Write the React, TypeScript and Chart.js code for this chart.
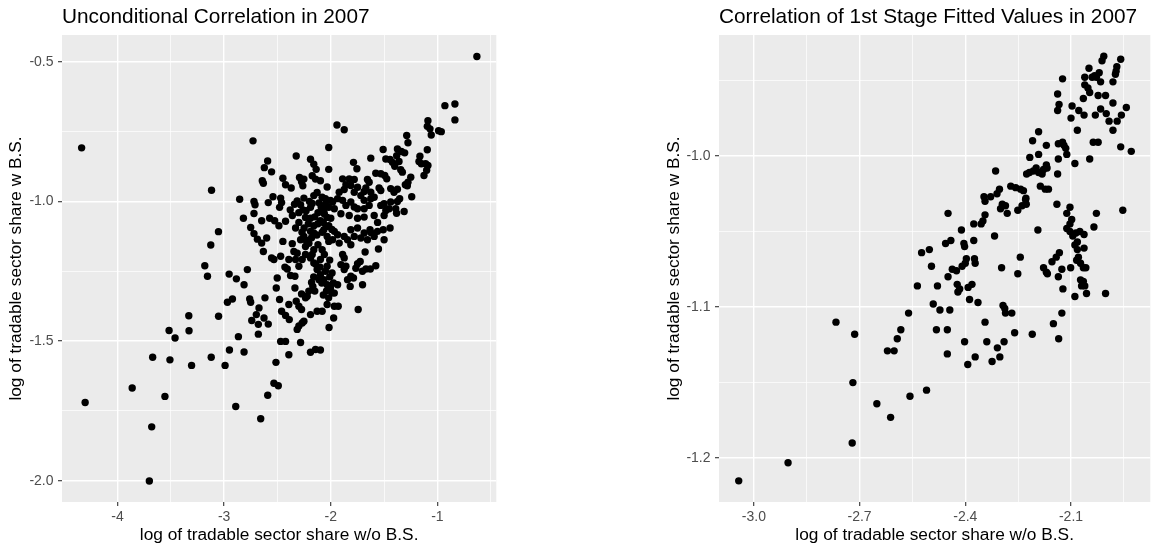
import React, { useEffect, useRef } from "react";
import { Chart, registerables } from "chart.js";

Chart.register(...registerables);

const FONT = '"Liberation Sans", Arial, Helvetica, sans-serif';

// ---------- Left panel data ----------
const leftTitle = "Unconditional Correlation in 2007";
const xAxisTitle = "log of tradable sector share w/o B.S.";
const yAxisTitle = "log of tradable sector share w B.S.";
const rightTitle = "Correlation of 1st Stage Fitted Values in 2007";

const leftXMajor = [-4, -3, -2, -1];
const leftXLabels = ["-4", "-3", "-2", "-1"];
const leftXMinor = [-3.5, -2.5, -1.5, -0.5];
const leftYMajor = [-2.0, -1.5, -1.0, -0.5];
const leftYLabels = ["-2.0", "-1.5", "-1.0", "-0.5"];
const leftYMinor = [-1.75, -1.25, -0.75];
const leftXRange = [-4.52, -0.448];
const leftYRange = [-2.076, -0.404];

const leftSparse: number[][] = [
  [-0.630, -0.481], [-4.336, -0.808], [-4.303, -1.720], [-3.862, -1.668], [-3.555, -1.698],
  [-3.679, -1.807], [-3.701, -2.001], [-3.670, -1.558], [-3.508, -1.567], [-3.305, -1.587],
  [-3.516, -1.462], [-3.460, -1.489], [-3.331, -1.409], [-3.329, -1.463], [-3.121, -1.558],
  [-3.052, -1.411], [-2.991, -1.587], [-2.950, -1.532], [-2.866, -1.484], [-2.813, -1.539],
  [-2.891, -1.734], [-2.657, -1.778], [-2.591, -1.694], [-2.533, -1.651], [-2.492, -1.660],
  [-2.514, -1.576], [-2.470, -1.501], [-2.424, -1.501], [-2.393, -1.549], [-2.283, -1.505],
  [-2.190, -1.540], [-2.143, -1.530], [-2.097, -1.532], [-2.016, -1.451], [-2.679, -1.440],
  [-2.679, -1.475], [-2.586, -1.439],
  [-3.118, -0.960], [-3.053, -1.108], [-3.125, -1.156], [-3.181, -1.230], [-3.156, -1.268],
  [-2.953, -1.260], [-2.885, -1.277], [-2.813, -1.298], [-2.782, -1.244], [-2.969, -1.361],
  [-2.922, -1.349], [-2.760, -1.349], [-2.751, -1.361], [-2.617, -1.345], [-2.673, -1.381],
  [-2.698, -1.405], [-2.741, -1.426], [-2.626, -1.417],
];

const leftUpperCluster: number[][] = [
  [-2.729, -0.783], [-2.592, -0.855], [-2.623, -0.879], [-2.555, -0.894], [-2.642, -0.926],
  [-2.632, -0.935], [-2.324, -0.837], [-2.190, -0.849], [-2.159, -0.867], [-2.137, -0.885],
  [-2.019, -0.807], [-2.019, -0.885], [-2.449, -0.917], [-2.424, -0.940], [-2.371, -0.952],
  [-2.293, -0.914], [-2.274, -0.929], [-2.252, -0.920], [-2.262, -0.944], [-2.174, -0.908],
  [-2.143, -0.920], [-2.097, -0.926], [-2.034, -0.948], [-2.128, -0.968], [-2.159, -0.979],
  [-2.081, -0.985], [-2.050, -0.990], [-2.003, -0.996], [-2.854, -0.992], [-2.720, -1.000],
  [-2.710, -1.012], [-2.586, -1.004], [-2.542, -0.983], [-2.470, -0.988], [-2.461, -1.004],
  [-2.480, -1.021], [-2.315, -0.998], [-2.283, -1.012], [-2.252, -0.988], [-2.174, -1.007],
  [-2.190, -1.021], [-2.231, -1.033], [-2.720, -1.043], [-2.819, -1.060], [-2.648, -1.069],
  [-2.573, -1.060], [-2.526, -1.069], [-2.424, -1.071], [-2.751, -1.093], [-2.486, -1.087],
  [-2.299, -1.075], [-2.237, -1.057], [-2.159, -1.087], [-2.097, -1.069], [-2.034, -1.057],
  [-2.019, -1.087], [-2.065, -1.033], [-2.019, -1.021],
];

const leftRightCluster: number[][] = [
  [-0.930, -0.657], [-0.836, -0.651], [-0.836, -0.708], [-1.942, -0.726], [-1.874, -0.743],
  [-1.089, -0.711], [-1.095, -0.731], [-1.070, -0.740], [-1.058, -0.762], [-0.989, -0.747],
  [-0.964, -0.750], [-1.288, -0.764], [-1.276, -0.790], [-1.095, -0.815], [-1.509, -0.814],
  [-1.625, -0.845], [-1.787, -0.860], [-1.755, -0.883], [-1.484, -0.848], [-1.444, -0.850],
  [-1.422, -0.860], [-1.400, -0.874], [-1.375, -0.812], [-1.338, -0.821], [-1.307, -0.826],
  [-1.382, -0.836], [-1.360, -0.857], [-1.344, -0.886], [-1.329, -0.895], [-1.164, -0.838],
  [-1.173, -0.857], [-1.151, -0.865], [-1.111, -0.865], [-1.089, -0.871], [-1.101, -0.888],
  [-1.126, -0.907], [-1.250, -0.913], [-1.276, -0.931], [-1.301, -0.940], [-1.282, -0.944],
  [-1.241, -0.983], [-1.578, -0.899], [-1.531, -0.901], [-1.494, -0.907], [-1.475, -0.919],
  [-1.354, -0.990], [-1.438, -0.954], [-1.375, -0.956], [-1.407, -0.967], [-1.375, -1.000],
  [-1.438, -1.002], [-1.500, -1.008],
  [-1.889, -0.919], [-1.827, -0.919], [-1.780, -0.921], [-1.858, -0.940], [-1.812, -0.943],
  [-1.749, -0.949], [-1.656, -0.921], [-1.640, -0.931], [-1.671, -0.952], [-1.687, -0.964],
  [-1.625, -0.967], [-1.547, -0.952], [-1.531, -0.961], [-1.593, -0.985], [-1.625, -0.990],
  [-1.687, -0.996], [-1.718, -0.979], [-1.780, -0.967], [-1.874, -0.957], [-1.921, -0.967],
  [-1.936, -0.990], [-1.889, -0.996], [-1.858, -1.014], [-1.812, -1.002], [-1.780, -1.020],
  [-1.749, -1.026], [-1.687, -1.026], [-1.640, -1.014], [-1.531, -1.014], [-1.484, -1.032],
  [-1.453, -1.026], [-1.391, -1.026], [-1.500, -1.050], [-1.593, -1.050], [-1.687, -1.056],
  [-1.749, -1.060], [-1.827, -1.050], [-1.905, -1.044], [-1.967, -1.026], [-1.983, -1.002],
  [-1.312, -1.036], [-1.383, -1.042], [-1.561, -1.075], [-1.508, -1.101], [-1.632, -1.101],
];

const leftLowerCluster: number[][] = [
  [-1.444, -1.095], [-1.500, -1.137], [-1.553, -1.170], [-1.678, -1.181], [-1.578, -1.230],
  [-1.670, -1.242], [-1.629, -1.242], [-1.703, -1.250], [-1.749, -1.223], [-1.765, -1.239],
  [-1.724, -1.215], [-1.702, -1.298], [-1.743, -1.387], [-1.812, -1.268], [-1.843, -1.280],
  [-1.787, -1.274], [-1.818, -1.304], [-1.889, -1.190], [-1.874, -1.202], [-1.905, -1.226],
  [-1.858, -1.232], [-1.874, -1.244], [-1.936, -1.298], [-1.967, -1.328], [-1.967, -1.375],
  [-1.930, -1.375], [-1.973, -1.417],
  [-1.812, -1.101], [-1.749, -1.095], [-1.687, -1.113], [-1.625, -1.111], [-1.562, -1.107],
  [-1.593, -1.125], [-1.656, -1.137], [-1.718, -1.131], [-1.780, -1.125], [-1.843, -1.137],
  [-1.812, -1.155], [-1.874, -1.125], [-1.936, -1.119], [-1.983, -1.137], [-1.921, -1.149],
  [-1.967, -1.107],
  [-2.330, -1.208], [-2.299, -1.232], [-2.268, -1.208], [-2.237, -1.190], [-2.430, -1.235],
  [-2.408, -1.242], [-2.377, -1.265], [-2.336, -1.268], [-2.502, -1.274], [-2.511, -1.310],
  [-2.480, -1.351], [-2.336, -1.310], [-2.274, -1.331], [-2.237, -1.345], [-2.393, -1.369],
  [-2.324, -1.357], [-2.299, -1.375], [-2.274, -1.387], [-2.461, -1.393], [-2.424, -1.408],
  [-2.389, -1.423], [-2.299, -1.446], [-2.268, -1.435], [-2.252, -1.429], [-2.315, -1.458],
  [-2.190, -1.405], [-2.168, -1.304], [-2.150, -1.321], [-2.221, -1.339], [-2.206, -1.321],
  [-2.128, -1.393], [-2.081, -1.393], [-2.034, -1.369],
  [-2.720, -1.115], [-2.688, -1.135], [-2.648, -1.149], [-2.601, -1.131], [-2.632, -1.179],
  [-2.555, -1.202], [-2.533, -1.208], [-2.470, -1.196], [-2.449, -1.143], [-2.361, -1.151],
  [-2.346, -1.179], [-2.393, -1.208],
  [-2.190, -1.202], [-2.159, -1.220], [-2.128, -1.244], [-2.097, -1.262], [-2.065, -1.280],
  [-2.034, -1.298], [-2.003, -1.310], [-1.988, -1.327],
  [-2.283, -1.137], [-2.252, -1.125], [-2.190, -1.107], [-2.159, -1.113], [-2.065, -1.101],
  [-2.034, -1.125], [-2.019, -1.143], [-2.081, -1.173], [-2.159, -1.173], [-2.237, -1.161],
  [-2.174, -1.190], [-2.097, -1.208], [-2.034, -1.232], [-1.988, -1.256],
  [-2.315, -1.185], [-2.205, -1.150], [-2.120, -1.155], [-2.060, -1.190], [-2.010, -1.210],
  [-2.140, -1.225], [-2.100, -1.235], [-2.050, -1.250], [-2.010, -1.270], [-2.110, -1.280],
  [-2.160, -1.270], [-2.180, -1.290], [-2.040, -1.320], [-2.070, -1.335], [-2.020, -1.345],
  [-1.975, -1.292], [-2.084, -1.292],
  [-2.050, -1.010], [-2.090, -1.020], [-2.120, -1.040], [-2.150, -1.055], [-2.190, -1.060],
  [-2.210, -1.080], [-2.250, -1.095], [-2.270, -1.110], [-2.330, -1.095], [-2.360, -1.050],
  [-2.380, -1.030], [-2.340, -1.010], [-2.300, -1.040], [-2.260, -1.030], [-2.200, -1.000],
  [-2.110, -1.005], [-2.060, -1.045], [-2.000, -1.060], [-1.990, -1.100], [-2.040, -1.090],
  [-2.080, -1.110], [-2.130, -1.120], [-2.180, -1.130], [-2.230, -1.140], [-2.120, -1.080],
  [-2.070, -1.075],
];

// ---------- Right panel data ----------
const rightXMajor = [-3.0, -2.7, -2.4, -2.1];
const rightXLabels = ["-3.0", "-2.7", "-2.4", "-2.1"];
const rightXMinor = [-2.85, -2.55, -2.25, -1.95];
const rightYMajor = [-1.2, -1.1, -1.0];
const rightYLabels = ["-1.2", "-1.1", "-1.0"];
const rightYMinor = [-1.15, -1.05, -0.95];
const rightXRange = [-3.099, -1.875];
const rightYRange = [-1.229, -0.92];

const rightTop: number[][] = [
  [-2.007, -0.934], [-2.012, -0.937], [-1.959, -0.936], [-2.049, -0.942], [-2.020, -0.945],
  [-2.033, -0.947], [-2.040, -0.948], [-2.028, -0.948], [-1.970, -0.941], [-1.972, -0.944],
  [-1.974, -0.946], [-1.981, -0.951], [-2.061, -0.948], [-2.016, -0.951], [-2.124, -0.949],
  [-2.061, -0.953], [-2.052, -0.955], [-2.047, -0.958], [-2.065, -0.962], [-2.023, -0.960],
  [-2.002, -0.960], [-2.138, -0.959], [-2.134, -0.966], [-2.138, -0.970], [-2.097, -0.967],
  [-2.100, -0.975], [-2.078, -0.970], [-2.063, -0.973], [-2.031, -0.973], [-2.016, -0.969],
  [-2.000, -0.972], [-1.992, -0.977], [-1.969, -0.977], [-1.981, -0.965], [-1.957, -0.973],
  [-1.943, -0.968], [-1.981, -0.983], [-2.082, -0.983], [-2.037, -0.991], [-2.023, -0.991],
  [-1.959, -0.994], [-1.929, -0.997], [-2.192, -0.984], [-2.209, -0.990], [-2.170, -0.993],
  [-2.136, -0.992], [-2.124, -0.991], [-2.120, -0.993], [-2.115, -0.995], [-2.192, -0.999],
  [-2.217, -1.001], [-2.112, -0.999], [-2.136, -1.002], [-2.089, -1.005], [-2.047, -1.002],
  [-2.314, -1.010], [-2.199, -1.008], [-2.207, -1.010], [-2.218, -1.011], [-2.226, -1.012],
  [-2.192, -1.011], [-2.178, -1.009], [-2.170, -1.006], [-2.168, -1.008], [-2.182, -1.012],
  [-2.138, -1.012], [-2.187, -1.020], [-2.173, -1.022], [-2.164, -1.022], [-2.271, -1.020],
  [-2.257, -1.021], [-2.243, -1.022], [-2.235, -1.023], [-2.303, -1.022], [-2.310, -1.025],
  [-2.328, -1.027], [-2.228, -1.028],
];

const rightMiddle: number[][] = [
  [-2.295, -1.032], [-2.300, -1.035], [-2.286, -1.033], [-2.281, -1.038], [-2.251, -1.036],
  [-2.239, -1.033], [-2.229, -1.029], [-2.227, -1.032], [-2.140, -1.032], [-2.112, -1.038],
  [-2.103, -1.034], [-2.028, -1.038], [-1.953, -1.036], [-2.035, -1.047], [-2.317, -1.053],
  [-2.194, -1.049], [-2.098, -1.042], [-2.103, -1.045], [-2.112, -1.048], [-2.103, -1.050],
  [-2.095, -1.053], [-2.086, -1.051], [-2.075, -1.050], [-2.063, -1.052], [-2.082, -1.057],
  [-2.089, -1.059], [-2.082, -1.062], [-2.063, -1.061], [-2.079, -1.067], [-2.084, -1.069],
  [-2.073, -1.071], [-2.065, -1.074], [-2.058, -1.074], [-2.133, -1.064], [-2.142, -1.067],
  [-2.154, -1.070], [-2.178, -1.074], [-2.170, -1.077], [-2.167, -1.078], [-2.126, -1.075],
  [-2.136, -1.080], [-2.101, -1.074], [-2.123, -1.088], [-2.073, -1.082], [-2.065, -1.083],
  [-2.070, -1.086], [-2.061, -1.086], [-2.056, -1.091], [-2.089, -1.093], [-2.002, -1.091],
  [-2.244, -1.067], [-2.297, -1.074], [-2.251, -1.078], [-2.293, -1.099], [-2.288, -1.101],
  [-2.286, -1.104], [-2.268, -1.104], [-2.126, -1.104], [-2.150, -1.111], [-2.260, -1.117],
  [-2.210, -1.118], [-2.135, -1.121],
];

const rightLeft: number[][] = [
  [-2.347, -1.027], [-2.344, -1.030], [-2.449, -1.038], [-2.344, -1.039], [-2.376, -1.045],
  [-2.355, -1.045], [-2.350, -1.043], [-2.411, -1.049], [-2.456, -1.058], [-2.441, -1.056],
  [-2.404, -1.058], [-2.402, -1.060], [-2.376, -1.056], [-2.524, -1.064], [-2.502, -1.062],
  [-2.496, -1.073], [-2.397, -1.068], [-2.374, -1.068], [-2.372, -1.071], [-2.437, -1.075],
  [-2.425, -1.076], [-2.409, -1.073], [-2.400, -1.071], [-2.449, -1.080], [-2.536, -1.086],
  [-2.479, -1.086], [-2.423, -1.085], [-2.421, -1.090], [-2.416, -1.088], [-2.392, -1.087],
  [-2.381, -1.085], [-2.388, -1.095], [-2.364, -1.097], [-2.491, -1.098], [-2.472, -1.102],
  [-2.444, -1.102], [-2.561, -1.104], [-2.344, -1.110], [-2.583, -1.115], [-2.482, -1.115],
  [-2.451, -1.115],
  [-3.043, -1.215], [-2.903, -1.203], [-2.721, -1.190], [-2.651, -1.164], [-2.612, -1.173],
  [-2.557, -1.159], [-2.510, -1.155], [-2.719, -1.150], [-2.767, -1.110], [-2.714, -1.118],
  [-2.621, -1.129], [-2.602, -1.129], [-2.593, -1.121], [-2.451, -1.131], [-2.402, -1.123],
  [-2.393, -1.138], [-2.372, -1.133], [-2.339, -1.123], [-2.324, -1.136], [-2.309, -1.127],
  [-2.302, -1.133], [-2.290, -1.123],
];

type Spec = {
  title: string;
  points: number[][];
  xRange: number[];
  yRange: number[];
  xMajor: number[];
  xLabels: string[];
  xMinor: number[];
  yMajor: number[];
  yLabels: string[];
  yMinor: number[];
  yAxisWidth: number;
  yTitlePad: number;
  padRight: number;
};

const near = (arr: number[], v: number) => arr.findIndex((m) => Math.abs(m - v) < 1e-9);

const panelPlugin = {
  id: "panelDecor",
  beforeDraw(chart: any) {
    const { ctx, chartArea } = chart;
    ctx.save();
    ctx.fillStyle = "#EBEBEB";
    ctx.fillRect(chartArea.left, chartArea.top, chartArea.right - chartArea.left, chartArea.bottom - chartArea.top);
    ctx.restore();
  },
  afterDraw(chart: any, _args: any, opts: any) {
    const { ctx, chartArea } = chart;
    ctx.save();
    ctx.font = `20.8px ${FONT}`;
    ctx.fillStyle = "#000000";
    ctx.textAlign = "left";
    ctx.textBaseline = "alphabetic";
    ctx.fillText(opts.text, chartArea.left, 23);
    ctx.restore();
  },
};

function buildConfig(s: Spec): any {
  const scale = (major: number[], minor: number[], labels: string[], range: number[], isX: boolean, axisTitle: string) => ({
    type: "linear",
    position: isX ? "bottom" : "left",
    min: range[0],
    max: range[1],
    afterBuildTicks: (axis: any) => {
      axis.ticks = [...minor, ...major].sort((a, b) => a - b).map((v) => ({ value: v }));
    },
    afterFit: (axis: any) => {
      if (isX) axis.height = 46;
      else axis.width = s.yAxisWidth;
    },
    ticks: {
      autoSkip: false,
      maxRotation: 0,
      padding: isX ? 3 : 4.5,
      color: "#4D4D4D",
      font: { family: FONT, size: 14 },
      callback: (v: any) => {
        const i = near(major, Number(v));
        return i >= 0 ? labels[i] : "";
      },
    },
    grid: {
      color: "#FFFFFF",
      lineWidth: (c: any) => (c.tick && near(major, c.tick.value) >= 0 ? 1.4 : 0.7),
      drawTicks: true,
      tickLength: 4,
      tickWidth: 1.1,
      tickColor: (c: any) => (c.tick && near(major, c.tick.value) >= 0 ? "#333333" : "rgba(0,0,0,0)"),
    },
    border: { display: false },
    title: {
      display: true,
      text: axisTitle,
      color: "#000000",
      font: { family: FONT, size: 17.3 },
      padding: isX ? { top: 0, bottom: 2 } : { top: s.yTitlePad, bottom: 0 },
    },
  });

  return {
    type: "scatter",
    data: {
      datasets: [
        {
          data: s.points.map((p) => ({ x: p[0], y: p[1] })),
          pointBackgroundColor: "#000000",
          pointBorderWidth: 0,
          pointBorderColor: "rgba(0,0,0,0)",
          pointRadius: 3.7,
          pointHoverRadius: 3.7,
          showLine: false,
        },
      ],
    },
    options: {
      animation: false,
      responsive: false,
      devicePixelRatio: 1,
      events: [],
      layout: { padding: { top: 35, right: s.padRight, bottom: 0, left: 0 } },
      plugins: {
        legend: { display: false },
        tooltip: { enabled: false },
        title: { display: false },
        panelDecor: { text: s.title },
      },
      scales: {
        x: scale(s.xMajor, s.xMinor, s.xLabels, s.xRange, true, xAxisTitle),
        y: scale(s.yMajor, s.yMinor, s.yLabels, s.yRange, false, yAxisTitle),
      },
    },
    plugins: [panelPlugin],
  };
}

const leftSpec: Spec = {
  title: leftTitle,
  points: [...leftSparse, ...leftUpperCluster, ...leftRightCluster, ...leftLowerCluster],
  xRange: leftXRange,
  yRange: leftYRange,
  xMajor: leftXMajor,
  xLabels: leftXLabels,
  xMinor: leftXMinor,
  yMajor: leftYMajor,
  yLabels: leftYLabels,
  yMinor: leftYMinor,
  yAxisWidth: 62,
  yTitlePad: 6,
  padRight: 3,
};

const rightSpec: Spec = {
  title: rightTitle,
  points: [...rightTop, ...rightMiddle, ...rightLeft],
  xRange: rightXRange,
  yRange: rightYRange,
  xMajor: rightXMajor,
  xLabels: rightXLabels,
  xMinor: rightXMinor,
  yMajor: rightYMajor,
  yLabels: rightYLabels,
  yMinor: rightYMinor,
  yAxisWidth: 79,
  yTitlePad: 24,
  padRight: 0,
};

function Panel({ spec, left, width }: { spec: Spec; left: number; width: number }) {
  const ref = useRef<HTMLCanvasElement>(null);
  useEffect(() => {
    const chart = new Chart(ref.current as HTMLCanvasElement, buildConfig(spec));
    return () => chart.destroy();
  }, [spec]);
  return (
    <canvas
      ref={ref}
      width={width}
      height={548}
      style={{ position: "absolute", left, top: 0, width, height: 548, display: "block" }}
    />
  );
}

export default function App() {
  return (
    <div
      style={{
        position: "fixed",
        left: 0,
        top: 0,
        width: 1154,
        height: 548,
        background: "#FFFFFF",
        overflow: "hidden",
      }}
    >
      <Panel spec={leftSpec} left={0} width={500} />
      <Panel spec={rightSpec} left={640} width={514} />
    </div>
  );
}
